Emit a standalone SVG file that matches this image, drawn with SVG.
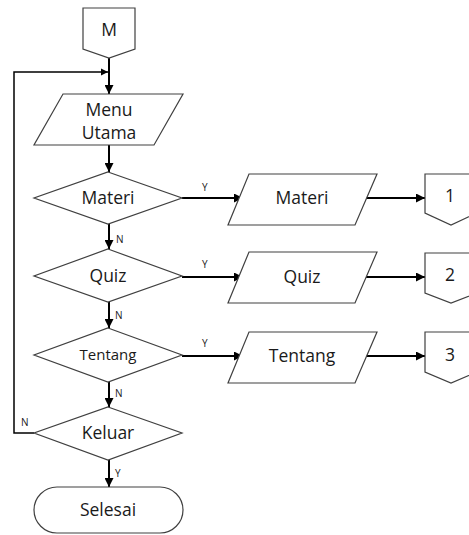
<svg xmlns="http://www.w3.org/2000/svg" width="469" height="535" viewBox="0 0 469 535">
  <style>
    .shape { fill: #ffffff; stroke: #404040; stroke-width: 1.2; }
    .flow { fill: none; stroke: #000000; stroke-width: 2; }
    .loop { fill: none; stroke: #000000; stroke-width: 1.5; }
    .lbl { font-family: "Open Sans", "Liberation Sans", sans-serif; font-size: 17.5px; fill: #1a1a1a; text-anchor: middle; }
    .sm { font-size: 15px; }
    .yn { font-family: "Open Sans", "Liberation Sans", sans-serif; font-size: 10px; fill: #1a1a1a; }
  </style>
  <defs>
    <marker id="arrow" viewBox="0 0 10 10" refX="10" refY="5" markerWidth="4.5" markerHeight="4.5" orient="auto" markerUnits="strokeWidth">
      <path d="M0,0 L10,5 L0,10 Z" fill="#000000"/>
    </marker>
    <marker id="arrowThin" viewBox="0 0 10 10" refX="10" refY="5" markerWidth="5" markerHeight="5" orient="auto" markerUnits="strokeWidth">
      <path d="M0,0 L10,5 L0,10 Z" fill="#000000"/>
    </marker>
  </defs>

  <!-- connectors -->
  <g id="connectors">
    <line class="flow" x1="109" y1="58" x2="109" y2="94" marker-end="url(#arrow)"/>
    <polyline class="loop" points="34,433 14,433 14,72 108,72" marker-end="url(#arrowThin)"/>
    <line class="flow" x1="109" y1="145" x2="109" y2="172" marker-end="url(#arrow)"/>
    <line class="flow" x1="109" y1="224" x2="109" y2="249" marker-end="url(#arrow)"/>
    <line class="flow" x1="109" y1="302" x2="109" y2="328" marker-end="url(#arrow)"/>
    <line class="flow" x1="109" y1="382" x2="109" y2="407" marker-end="url(#arrow)"/>
    <line class="flow" x1="109" y1="460" x2="109" y2="487" marker-end="url(#arrow)"/>
    <line class="flow" x1="182" y1="198" x2="243" y2="198" marker-end="url(#arrow)"/>
    <line class="flow" x1="182" y1="277" x2="243" y2="277" marker-end="url(#arrow)"/>
    <line class="flow" x1="182" y1="356" x2="243" y2="356" marker-end="url(#arrow)"/>
    <line class="flow" x1="364" y1="198" x2="425" y2="198" marker-end="url(#arrow)"/>
    <line class="flow" x1="364" y1="277" x2="425" y2="277" marker-end="url(#arrow)"/>
    <line class="flow" x1="364" y1="356" x2="425" y2="356" marker-end="url(#arrow)"/>
    <text class="yn" x="202" y="191">Y</text>
    <text class="yn" x="202" y="268">Y</text>
    <text class="yn" x="202" y="347">Y</text>
    <text class="yn" x="116" y="243">N</text>
    <text class="yn" x="115" y="319">N</text>
    <text class="yn" x="115" y="397">N</text>
    <text class="yn" x="115" y="477">Y</text>
    <text class="yn" x="21" y="426">N</text>
  </g>

  <g id="start-m">
    <path class="shape" d="M83,8 H135 V49 L109,58 L83,49 Z"/>
    <text class="lbl" x="109" y="36">M</text>
  </g>

  <g id="menu-utama">
    <path class="shape" d="M63,94 H183 L154,145 H34 Z"/>
    <text class="lbl" x="109" y="116">Menu</text>
    <text class="lbl" x="109" y="139">Utama</text>
  </g>

  <g id="dec-materi">
    <path class="shape" d="M108,172 L182,198 L108,224 L34,198 Z"/>
    <text class="lbl" x="108" y="204">Materi</text>
  </g>

  <g id="dec-quiz">
    <path class="shape" d="M108,249 L182,276 L108,302 L34,276 Z"/>
    <text class="lbl" x="108" y="282">Quiz</text>
  </g>

  <g id="dec-tentang">
    <path class="shape" d="M108,328 L182,355 L108,382 L34,355 Z"/>
    <text class="lbl sm" x="108" y="360">Tentang</text>
  </g>

  <g id="dec-keluar">
    <path class="shape" d="M108,407 L182,433 L108,460 L34,433 Z"/>
    <text class="lbl" x="108" y="439">Keluar</text>
  </g>

  <g id="end-selesai">
    <rect class="shape" x="34" y="487" width="149" height="46" rx="23" ry="23"/>
    <text class="lbl" x="108" y="516">Selesai</text>
  </g>

  <g id="out-materi">
    <path class="shape" d="M249,174 H377 L355,225 H228 Z"/>
    <text class="lbl" x="302" y="204">Materi</text>
  </g>

  <g id="out-quiz">
    <path class="shape" d="M249,252 H377 L355,303 H228 Z"/>
    <text class="lbl" x="302" y="283">Quiz</text>
  </g>

  <g id="out-tentang">
    <path class="shape" d="M249,332 H377 L355,383 H228 Z"/>
    <text class="lbl" x="302" y="362">Tentang</text>
  </g>

  <g id="conn-1">
    <path class="shape" d="M425,174 H477 V213 L451,225 L425,213 Z"/>
    <text class="lbl" x="450" y="202">1</text>
  </g>

  <g id="conn-2">
    <path class="shape" d="M425,253 H477 V293 L451,303 L425,293 Z"/>
    <text class="lbl" x="450" y="281">2</text>
  </g>

  <g id="conn-3">
    <path class="shape" d="M425,332 H477 V372 L451,383 L425,372 Z"/>
    <text class="lbl" x="450" y="361">3</text>
  </g>
</svg>
